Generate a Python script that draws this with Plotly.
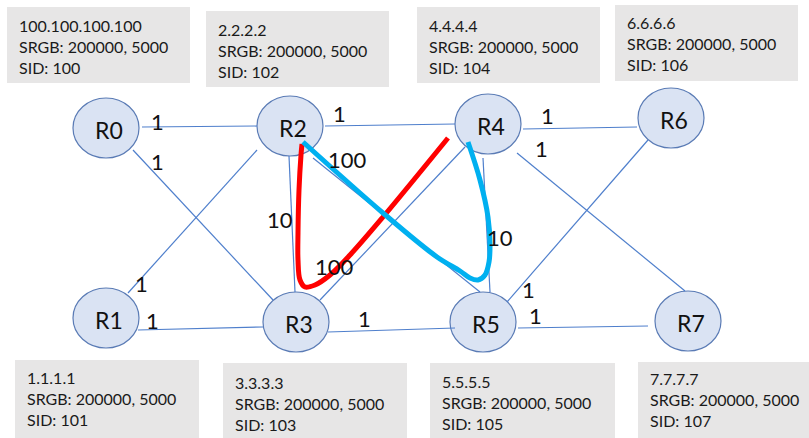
import plotly.graph_objects as go

W, H = 809, 438

# Routers: name, center x, center y (pixel-like data coords, y downwards)
node_names = ["R0", "R1", "R2", "R3", "R4", "R5", "R6", "R7"]
node_x = [106, 106, 290, 296, 488, 483, 671, 688]
node_y = [128, 318, 126, 322, 124, 322, 118, 321]
node_rx = 33
node_ry = 30

# Links: endpoints
edge_x0 = [142, 133, 257, 138, 289, 325, 313, 320, 483, 328, 523, 517, 648, 518]
edge_y0 = [127, 150, 150, 330, 156, 126, 158, 300, 158, 332, 129, 153, 140, 328]
edge_x1 = [257, 273, 128, 263, 295, 455, 480, 465, 490, 455, 637, 685, 507, 648]
edge_y1 = [126, 300, 293, 327, 292, 124, 292, 147, 292, 328, 127, 291, 302, 326]

# Link metric labels
metric_text = ["1", "1", "1", "100", "10", "100", "10", "1", "1", "1", "1", "1", "1", "1"]
metric_x = [157, 157, 339, 347, 280, 334, 500, 547, 541, 141, 152, 364, 528, 535]
metric_y = [121, 161, 113, 159, 219, 266, 237, 115, 148, 283, 320, 318, 289, 315]

# Info boxes
box_lines = [
    ["100.100.100.100", "SRGB: 200000, 5000", "SID: 100"],
    ["2.2.2.2", "SRGB: 200000, 5000", "SID: 102"],
    ["4.4.4.4", "SRGB: 200000, 5000", "SID: 104"],
    ["6.6.6.6", "SRGB: 200000, 5000", "SID: 106"],
    ["1.1.1.1", "SRGB: 200000, 5000", "SID: 101"],
    ["3.3.3.3", "SRGB: 200000, 5000", "SID: 103"],
    ["5.5.5.5", "SRGB: 200000, 5000", "SID: 105"],
    ["7.7.7.7", "SRGB: 200000, 5000", "SID: 107"],
]
box_x0 = [7, 206, 417, 615, 15, 223, 430, 638]
box_x1 = [190, 389, 600, 798, 199, 407, 615, 812]
box_y0 = [7, 11, 7, 5, 360, 363, 363, 362]
box_y1 = [83, 87, 83, 81, 440, 440, 440, 440]
box_text_y = [25, 29, 25, 22, 377, 382, 381, 378]

# Highlighted paths
red_x = [448, 383, 350, 330, 315, 305, 300, 298, 298, 299, 301, 302]
red_y = [138, 217, 255, 275, 285, 287, 280, 260, 233, 190, 155, 144]
blue_x = [303, 383, 437, 460, 470, 478, 485, 489, 490, 488, 480, 468]
blue_y = [142, 213, 257, 271, 278, 280, 275, 262, 245, 217, 180, 142]

FONT = "Lato"
fig = go.Figure()
shapes = []
annotations = []

for i in range(len(box_lines)):
    shapes.append(dict(type="rect", x0=box_x0[i], x1=box_x1[i], y0=box_y0[i], y1=box_y1[i],
                       fillcolor="#e7e6e6", line=dict(width=0), layer="below"))
    for j, t in enumerate(box_lines[i]):
        annotations.append(dict(x=box_x0[i] + 10, y=box_text_y[i] + 21 * j, text=t,
                                xanchor="left", yanchor="middle", showarrow=False,
                                font=dict(family=FONT, size=16, color="#1a1a1a")))

for i in range(len(edge_x0)):
    fig.add_trace(go.Scatter(x=[edge_x0[i], edge_x1[i]], y=[edge_y0[i], edge_y1[i]],
                             mode="lines", line=dict(color="#4f7fcc", width=1.2),
                             hoverinfo="skip", showlegend=False))

fig.add_trace(go.Scatter(x=red_x, y=red_y, mode="lines",
                         line=dict(color="#ff0000", width=5, shape="spline", smoothing=1.0),
                         hoverinfo="skip", showlegend=False))
fig.add_trace(go.Scatter(x=blue_x, y=blue_y, mode="lines",
                         line=dict(color="#00b0f0", width=5, shape="spline", smoothing=1.0),
                         hoverinfo="skip", showlegend=False))

for i, n in enumerate(node_names):
    shapes.append(dict(type="circle", x0=node_x[i] - node_rx, x1=node_x[i] + node_rx,
                       y0=node_y[i] - node_ry, y1=node_y[i] + node_ry,
                       fillcolor="#dae3f3", line=dict(color="#5a7bb5", width=1.2), layer="below"))
    annotations.append(dict(x=node_x[i] + 3, y=node_y[i] + 2, text=n, showarrow=False,
                            xanchor="center", yanchor="middle",
                            font=dict(family=FONT, size=23, color="#111111")))

for i, t in enumerate(metric_text):
    annotations.append(dict(x=metric_x[i], y=metric_y[i], text=t, showarrow=False,
                            xanchor="center", yanchor="middle",
                            font=dict(family=FONT, size=22, color="#111111")))

fig.update_layout(
    width=W, height=H, margin=dict(l=0, r=0, t=0, b=0),
    paper_bgcolor="white", plot_bgcolor="white",
    xaxis=dict(range=[0, W], visible=False, fixedrange=True),
    yaxis=dict(range=[H, 0], visible=False, fixedrange=True),
    shapes=shapes, annotations=annotations, showlegend=False,
)

fig.write_html("out.html", config={"displayModeBar": False},
               post_script="document.body.style.margin='0';document.body.style.overflow='hidden';")
